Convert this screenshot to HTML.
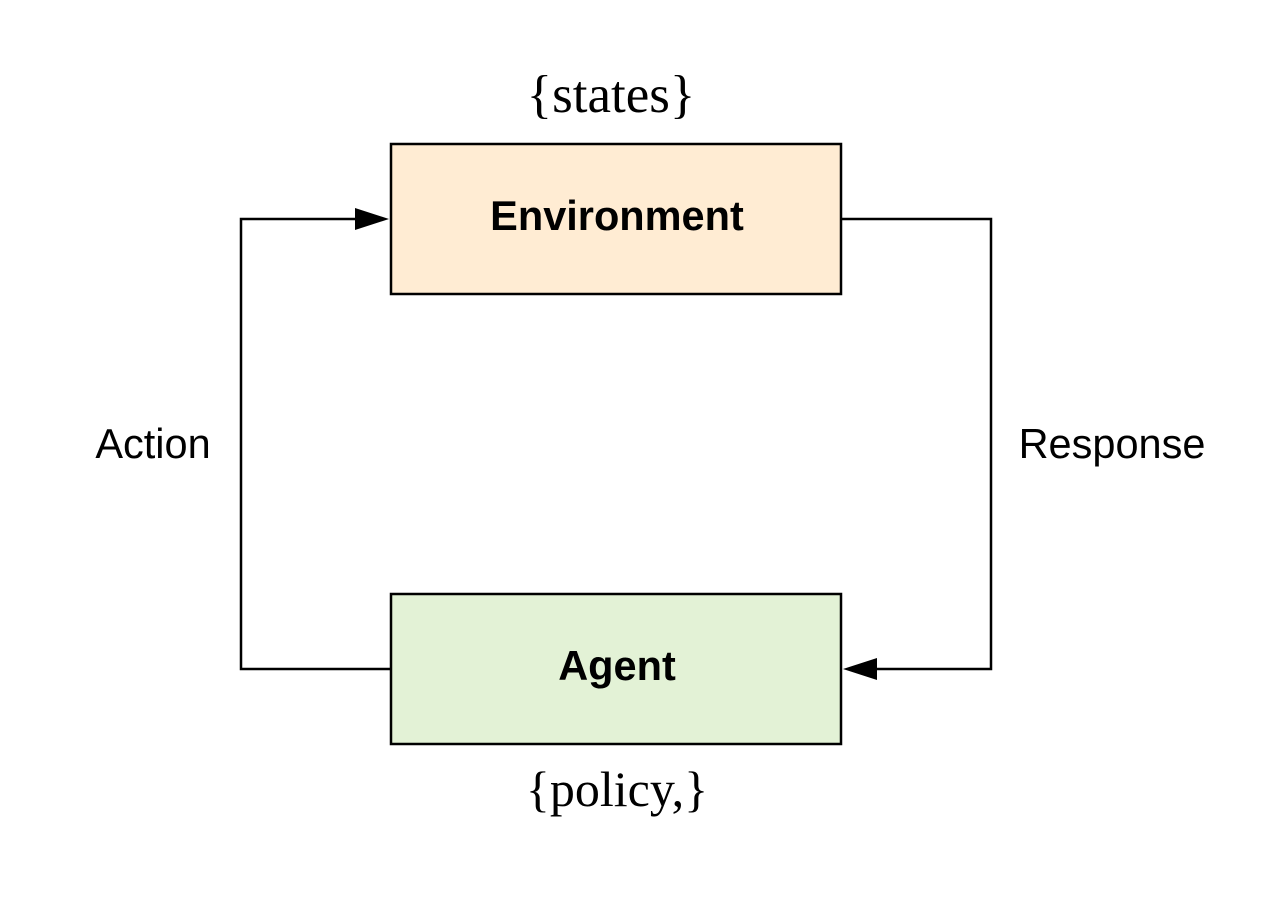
<!DOCTYPE html>
<html><head><style>
body{margin:0;background:#fff;}
</style></head><body>
<svg width="1264" height="894" xmlns="http://www.w3.org/2000/svg">
<rect width="1264" height="894" fill="#fff"/>
<rect x="391" y="144" width="450" height="150" fill="#ffecd3" stroke="#000" stroke-width="2.5"/>
<rect x="391" y="594" width="450" height="150" fill="#e3f2d6" stroke="#000" stroke-width="2.5"/>
<polyline points="391,669 241,669 241,219 360,219" fill="none" stroke="#000" stroke-width="2.5"/>
<polygon points="389,219 355,208 355,230" fill="#000"/>
<polyline points="841,219 991,219 991,669 872,669" fill="none" stroke="#000" stroke-width="2.5"/>
<polygon points="843,669 877,658 877,680" fill="#000"/>
<text x="617" y="230" font-family="Liberation Sans, sans-serif" font-weight="bold" font-size="41.5" text-anchor="middle">Environment</text>
<text x="617" y="680" font-family="Liberation Sans, sans-serif" font-weight="bold" font-size="41.5" text-anchor="middle">Agent</text>
<text x="153" y="458" font-family="Liberation Sans, sans-serif" font-size="41.5" text-anchor="middle">Action</text>
<text x="1112" y="458" font-family="Liberation Sans, sans-serif" font-size="41.5" text-anchor="middle">Response</text>
<text x="611" y="112" font-family="Liberation Serif, serif" font-size="53" text-anchor="middle">{states}</text>
<text x="617" y="806" font-family="Liberation Serif, serif" font-size="50" text-anchor="middle">{policy,}</text>
</svg>
</body></html>
